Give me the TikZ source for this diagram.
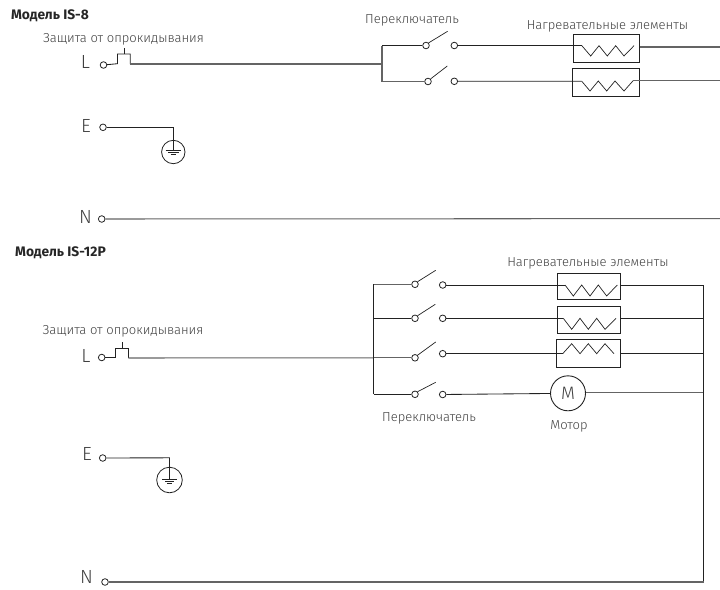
\documentclass[tikz,border=0pt]{standalone}
\usepackage{fontspec}
\setmainfont{Fira Sans}
\newfontfamily\lightfont{Fira Sans Light}
\usetikzlibrary{calc}
\definecolor{ink}{HTML}{222222}
\definecolor{txt}{HTML}{404040}
\tikzset{
  wire/.style={draw=ink,line width=0.85pt},
  heavy/.style={draw=ink!70,line width=1.05pt},
  thin wire/.style={draw=ink,line width=0.7pt},
  term/.style={circle,draw=ink,line width=0.8pt,fill=white,inner sep=0pt,minimum size=6.6pt},
  heater/.style={rectangle,draw=ink,line width=0.95pt,inner sep=0pt},
  motor/.style={circle,draw=ink,line width=0.9pt,inner sep=0pt,minimum size=35pt,text=txt,font=\lightfont\fontsize{18}{18}\selectfont},
  earthring/.style={circle,draw=ink,line width=0.8pt,inner sep=0pt},
  lbl/.style={inner sep=0pt,yshift=-1pt,text=txt,font=\lightfont\fontsize{13}{15}\selectfont},
  phase/.style={inner sep=0pt,text=txt,font=\lightfont\fontsize{19}{19}\selectfont},
  head/.style={inner sep=0pt,yshift=-1pt,text=black!85,font=\fontsize{13.8}{15}\selectfont\bfseries},
}
\begin{document}
\begin{tikzpicture}[x=1pt,y=-1pt]
\useasboundingbox (0,0) rectangle (720,589);
% ---------- Model IS-8 ----------
\node[head] (h1) at (50,15) {Модель IS-8};
\node[lbl] (tp1) at (123.5,38.5) {Защита от опрокидывания};
\node[phase] (L1) at (85.5,62) {L};
\node[phase] (E1) at (86,126) {E};
\node[phase] (N1) at (85.5,217) {N};
\node[term] (tL1) at (103.5,65) {};
\node[term] (tE1) at (103,127.3) {};
\node[term] (tN1) at (101.7,219) {};
% tip-over switch
\coordinate (a1) at (117.5,63.7);
\coordinate (a2) at (117.5,54);
\coordinate (a3) at (130.3,54);
\coordinate (a4) at (130.3,64);
\coordinate (a5) at (124,48);
\coordinate (a6) at (124,54);
\coordinate (b1) at (382,64);
\coordinate (b1t) at (382,45.5);
\coordinate (b1b) at (382,81.5);
\draw[wire] (tL1) -- (a1) -- (a2) -- (a3) -- (a4);
\draw[thin wire] (a5) -- (a6);
\draw[heavy] (a4) -- (b1);
% bus
\draw[heavy] (b1t) -- (b1b);
% earth
\coordinate (g1) at (173.3,127.3);
\node[earthring,minimum size=23.4pt] (gr1) at (173.3,152) {};
\coordinate (g1c) at (173.3,150);
\draw[wire] (tE1) -- (g1) -- (g1c);
\draw[thin wire] (165.6,150) -- (181,150) (168,152.3) -- (178.6,152.3) (170.5,154.5) -- (176.1,154.5);
% neutral
\coordinate (n1e) at (720,218.6);
\draw[heavy] (tN1) -- (n1e);
% switches
\node[term] (s1l) at (426,45.5) {};
\node[term] (s1r) at (454.3,45.5) {};
\node[term] (s2l) at (428,81.5) {};
\node[term] (s2r) at (454.3,81.3) {};
\draw[wire] (b1t) -- (s1l);
\draw[heavy] (b1b) -- (s2l);
\draw[thin wire] (s1l.north east) -- (447.6,31.3);
\draw[thin wire] (s2l.north east) -- (447.3,66);
\node[lbl] (sw1) at (412,19.5) {Переключатель};
\node[lbl] (he1) at (607.5,25) {Нагревательные элементы};
% heaters
\node[heater,minimum width=65.6pt,minimum height=27.7pt] (H1) at (606.5,48.2) {};
\node[heater,minimum width=67pt,minimum height=28.7pt] (H2) at (605.8,82.6) {};
\coordinate (z1) at (581.7,45.5);
\coordinate (z2) at (581.7,81.2);
\draw[wire] (s1r) -- (z1);
\draw[wire] (s2r) -- (z2);
\draw[thin wire] (z1) -- (590.7,56) -- (599,45.7) -- (607.3,56) -- (615.7,45.7) -- (624,56) -- (634,45.7);
\draw[thin wire] (z2) -- (590,91) -- (598.3,81) -- (606.7,91) -- (615,81) -- (624,91) -- (633.3,80.5);
\coordinate (o1) at (720,47);
\coordinate (o2) at (720,80.5);
\draw[heavy] (H1.east |- o1) -- (o1);
\draw[heavy] (633.3,80.5) -- (o2);
% ---------- Model IS-12P ----------
\node[head] (h2) at (60.5,252) {Модель IS-12P};
\node[lbl] (tp2) at (123,330) {Защита от опрокидывания};
\node[phase] (L2) at (86,356) {L};
\node[phase] (E2) at (87,454) {E};
\node[phase] (N2) at (86.5,577) {N};
\node[term] (tL2) at (101.7,357.5) {};
\node[term] (tE2) at (102.7,458) {};
\node[term] (tN2) at (105,582) {};
\coordinate (c1) at (115.5,357.5);
\coordinate (c2) at (115.5,348);
\coordinate (c3) at (128.3,348);
\coordinate (c4) at (128.3,358);
\coordinate (c5) at (122.5,342);
\coordinate (c6) at (122.5,348);
\coordinate (b2) at (373.7,357.8);
\coordinate (b2t) at (373.7,284.3);
\coordinate (b2b) at (373.7,394.3);
\draw[wire] (tL2) -- (c1) -- (c2) -- (c3) -- (c4);
\draw[thin wire] (c5) -- (c6);
\draw[heavy] (c4) -- (b2);
\draw[wire] (b2t) -- (b2b);
% earth
\coordinate (g2) at (169.5,457.8);
\node[earthring,minimum size=25.6pt] (gr2) at (169.5,480) {};
\coordinate (g2c) at (169.5,479);
\draw[wire] (tE2) -- (g2) -- (g2c);
\draw[thin wire] (162,479) -- (177,479) (165,481.2) -- (174,481.2) (167,483.4) -- (172,483.4);
% switches
\node[term] (r1l) at (415,284.3) {};
\node[term] (r1r) at (442.7,285) {};
\node[term] (r2l) at (415,318.3) {};
\node[term] (r2r) at (442.7,318.3) {};
\node[term] (r3l) at (415,357.8) {};
\node[term] (r3r) at (442.7,353.7) {};
\node[term] (r4l) at (415,394.3) {};
\node[term] (r4r) at (442.7,394.5) {};
\draw[heavy] (b2t) -- (r1l);
\draw[wire] (373.7,318.3) -- (r2l);
\draw[heavy] (b2) -- (r3l);
\draw[wire] (b2b) -- (r4l);
\draw[thin wire] (r1l.north east) -- (435.7,270.3);
\draw[thin wire] (r2l.north east) -- (435.3,304.3);
\draw[thin wire] (r3l.north east) -- (435.7,342);
\draw[thin wire] (r4l.north east) -- (435.7,382.3);
\node[lbl] (he2) at (588,262) {Нагревательные элементы};
\node[lbl] (sw2) at (429,417.7) {Переключатель};
\node[lbl] (mt) at (569,425) {Мотор};
% heaters
\node[heater,minimum width=63.4pt,minimum height=26.3pt] (H3) at (589,286.2) {};
\node[heater,minimum width=63.4pt,minimum height=27.3pt] (H4) at (589,319.7) {};
\node[heater,minimum width=64.7pt,minimum height=28pt] (H5) at (588.35,353.3) {};
\node[motor] (M) at (568,393.3) {M};
\coordinate (z3) at (565,285);
\coordinate (z4) at (563.3,318.3);
\coordinate (z5) at (562.7,353.7);
\draw[wire] (r1r) -- (z3);
\draw[wire] (r2r) -- (z4);
\draw[wire] (r3r) -- (z5);
\draw[wire] (r4r) -- (M);
\draw[thin wire] (z3) -- (573.3,296) -- (581.7,285) -- (590,296) -- (598.3,285) -- (606.7,296) -- (617.3,285);
\draw[thin wire] (z4) -- (571.7,329.3) -- (580,318.3) -- (588.3,329.3) -- (596.7,318.3) -- (605,329.3) -- (616,318.3);
\draw[thin wire] (z5) -- (571.7,343.7) -- (580,353.7) -- (588.3,343.7) -- (596.7,353.7) -- (605,343.7) -- (614,353.7);
% return rail
\coordinate (rt) at (703.7,285.3);
\coordinate (r2) at (703.7,318.3);
\coordinate (r3) at (703.7,353.3);
\coordinate (r4) at (703.7,392.5);
\coordinate (rb) at (703.7,582);
\draw[wire] (H3.east |- rt) -- (rt);
\draw[wire] (H4.east |- r2) -- (r2);
\draw[wire] (H5.east |- r3) -- (r3);
\draw[heavy] (M.east |- r4) -- (r4);
\draw[wire] (rt) -- (rb);
\draw[heavy] (tN2) -- (rb);
\end{tikzpicture}
\end{document}
